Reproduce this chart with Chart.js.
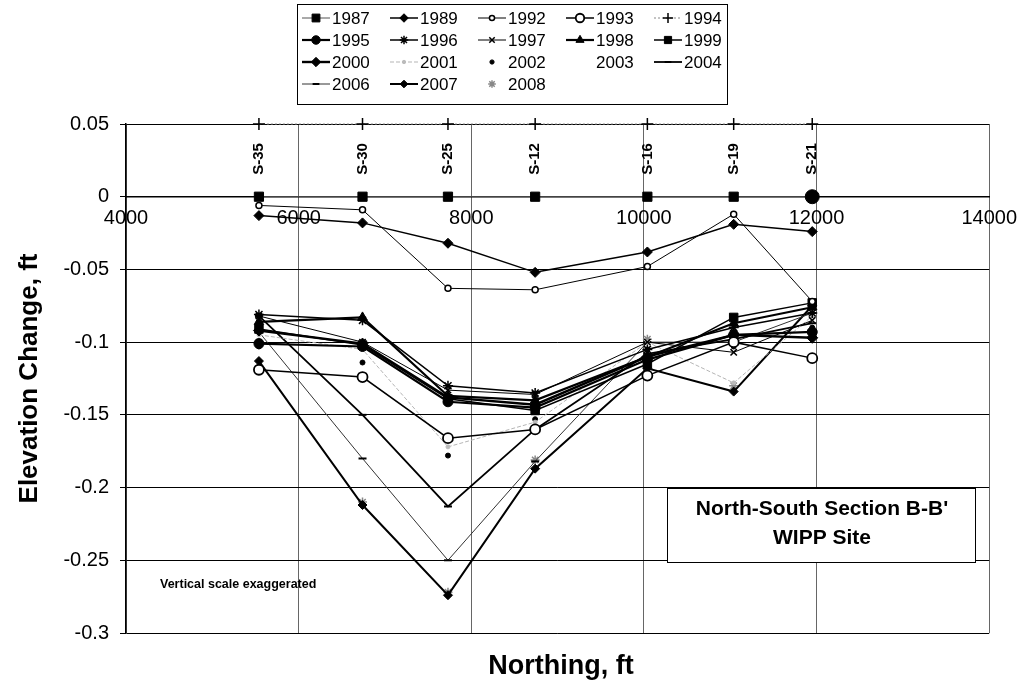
<!DOCTYPE html>
<html>
<head>
<meta charset="utf-8">
<script src="https://cdn.jsdelivr.net/npm/chart.js@4"></script>
<style>
  html, body { margin: 0; background: #fff; }
  #wrap { width: 1027px; height: 700px; }
</style>
</head>
<body>
<div id="wrap"><canvas id="c" width="1027" height="700"></canvas></div>
<script>
// survey stations along the section and their northing
const stations = ["S-35", "S-30", "S-25", "S-12", "S-16", "S-19", "S-21"];
const northing = [5540, 6740, 7730, 8740, 10040, 11040, 11950];

// elevation change per survey year (ft), same station order
const y1987 = [0, 0, 0, 0, 0, 0, 0];
const y1989 = [-0.013, -0.018, -0.032, -0.052, -0.038, -0.019, -0.024];
const y1992 = [-0.006, -0.009, -0.063, -0.064, -0.048, -0.012, -0.072];
const y1993 = [-0.119, -0.124, -0.166, -0.160, -0.123, -0.100, -0.111];
const y1994 = [0.05, 0.05, 0.05, 0.05, 0.05, 0.05, 0.05]; // label row
const y1995 = [-0.101, -0.103, -0.141, -0.145, -0.112, -0.095, -0.093];
const y1996 = [-0.081, -0.085, -0.130, -0.135, -0.105, -0.090, -0.080];
const y1997 = [-0.082, -0.100, -0.133, -0.136, -0.100, -0.107, -0.085];
const y1998 = [-0.086, -0.083, -0.137, -0.140, -0.110, -0.087, -0.076];
const y1999 = [-0.091, -0.102, -0.139, -0.147, -0.115, -0.083, -0.073];
const y2000 = [-0.092, -0.101, -0.138, -0.143, -0.110, -0.095, -0.097];
const y2001 = [-0.095, -0.105, -0.172, -0.155, -0.100, -0.128, -0.082];
const y2002 = [-0.103, -0.114, -0.178, -0.153, -0.105, -0.103, -0.090];
const y2003 = [];
const y2004 = [-0.082, -0.150, -0.213, -0.160, -0.108, -0.098, -0.087];
const y2006 = [-0.093, -0.180, -0.250, -0.182, -0.100, -0.100, -0.080];
const y2007 = [-0.113, -0.212, -0.274, -0.187, -0.118, -0.134, -0.075];
const y2008 = [-0.100, -0.210, -0.272, -0.181, -0.098, -0.130, -0.078];

const xTicks = { min: 4000, max: 14000, step: 2000 };
const yTicks = { min: -0.3, max: 0.05, step: 0.05 };

const FONT = '"Liberation Sans", Arial, Helvetica, sans-serif';
Chart.defaults.font.family = FONT;
Chart.defaults.color = "#000";

function pts(values) {
  return values.map((v, i) => ({ x: northing[i], y: v }));
}

function series(label, values, s) {
  return Object.assign({
    label,
    data: pts(values),
    borderColor: "#000",
    backgroundColor: "#000",
    pointBorderColor: "#000",
    pointBackgroundColor: "#000",
    borderWidth: 1.5,
    pointBorderWidth: 1,
    pointRadius: 4,
    pointStyle: "circle",
    showLine: true,
    clip: false,
    tension: 0,
  }, s);
}

const datasets = [
  series("1987", y1987, { borderWidth: 1, borderColor: "#555", pointStyle: ["rect", "rect", "rect", "rect", "rect", "rect", "circle"], pointRadius: [6.5, 6.5, 6.5, 6.5, 6.5, 6.5, 7] }),
  series("1989", y1989, { borderWidth: 1.5, pointStyle: "rectRot", pointRadius: 5 }),
  series("1992", y1992, { borderWidth: 1, pointStyle: "circle", pointRadius: 3, pointBackgroundColor: "#fff", pointBorderWidth: 1.5 }),
  series("1993", y1993, { borderWidth: 1.5, pointStyle: "circle", pointRadius: 5, pointBackgroundColor: "#fff", pointBorderWidth: 1.8 }),
  series("1994", y1994, { borderWidth: 1, borderColor: "#888", borderDash: [2, 2], pointStyle: "cross", pointRadius: 6, pointBorderWidth: 1.5 }),
  series("1995", y1995, { borderWidth: 2.2, pointStyle: "circle", pointRadius: 5 }),
  series("1996", y1996, { borderWidth: 1.5, pointStyle: "star", pointRadius: 5, pointBorderWidth: 1.5 }),
  series("1997", y1997, { borderWidth: 1, pointStyle: "crossRot", pointRadius: 4.5, pointBorderWidth: 1.5 }),
  series("1998", y1998, { borderWidth: 2.2, pointStyle: "triangle", pointRadius: 5.5 }),
  series("1999", y1999, { borderWidth: 1.5, pointStyle: "rect", pointRadius: 6 }),
  series("2000", y2000, { borderWidth: 2.4, pointStyle: "rectRot", pointRadius: 5.5 }),
  series("2001", y2001, { borderWidth: 1, borderColor: "#b5b5b5", borderDash: [4, 2], pointStyle: "circle", pointRadius: 2, pointBackgroundColor: "#bbb", pointBorderColor: "#bbb" }),
  series("2002", y2002, { showLine: false, borderWidth: 0, pointStyle: "circle", pointRadius: 2.5 }),
  series("2003", y2003, { showLine: false, borderWidth: 0, pointRadius: 0 }),
  series("2004", y2004, { borderWidth: 1.8, pointStyle: "line", pointRadius: 4, pointBorderWidth: 2 }),
  series("2006", y2006, { borderWidth: 1, borderColor: "#333", pointStyle: "line", pointRadius: 4, pointBorderWidth: 2 }),
  series("2007", y2007, { borderWidth: 2, pointStyle: "rectRot", pointRadius: 4.5 }),
  series("2008", y2008, { showLine: false, borderWidth: 0, pointStyle: "star", pointRadius: 4.5, pointBorderColor: "#888", pointBackgroundColor: "#888", pointBorderWidth: 1.5 }),
];

// boxed legend, 5 columns like the original
const gridLegend = {
  id: "gridLegend",
  afterDraw(chart) {
    const ctx = chart.ctx;
    ctx.save();
    ctx.setLineDash([]);
    ctx.strokeStyle = "#000";
    ctx.lineWidth = 1;
    ctx.strokeRect(297.5, 4.5, 430, 100);
    ctx.font = "17px " + FONT;
    ctx.textBaseline = "middle";
    ctx.textAlign = "left";
    chart.data.datasets.forEach((ds, i) => {
      const x0 = 302 + (i % 5) * 88;
      const y = 18 + Math.floor(i / 5) * 22;
      if (ds.showLine !== false && ds.borderWidth > 0) {
        ctx.strokeStyle = ds.borderColor;
        ctx.lineWidth = ds.borderWidth;
        ctx.setLineDash(ds.borderDash || []);
        ctx.beginPath();
        ctx.moveTo(x0, y);
        ctx.lineTo(x0 + 28, y);
        ctx.stroke();
        ctx.setLineDash([]);
      }
      const style = Array.isArray(ds.pointStyle) ? ds.pointStyle[0] : ds.pointStyle;
      const r = Array.isArray(ds.pointRadius) ? ds.pointRadius[0] : ds.pointRadius;
      if (r > 0 && Chart.helpers && Chart.helpers.drawPoint) {
        ctx.fillStyle = ds.pointBackgroundColor;
        ctx.strokeStyle = ds.pointBorderColor;
        ctx.lineWidth = ds.pointBorderWidth;
        Chart.helpers.drawPoint(ctx, { pointStyle: style, radius: r * 0.85, rotation: 0, borderWidth: ds.pointBorderWidth }, x0 + 14, y);
      }
      ctx.fillStyle = "#000";
      ctx.fillText(ds.label, x0 + 30, y + 1);
    });
    ctx.restore();
  },
};

// station names above the 1994 label row, plus text annotations
const annotations = {
  id: "annotations",
  afterDatasetsDraw(chart) {
    const ctx = chart.ctx;
    const meta = chart.getDatasetMeta(4);
    ctx.save();
    ctx.fillStyle = "#000";
    ctx.font = "bold 15px " + FONT;
    ctx.textAlign = "center";
    ctx.textBaseline = "middle";
    meta.data.forEach((p, i) => {
      ctx.save();
      ctx.translate(p.x, p.y + 35);
      ctx.rotate(-Math.PI / 2);
      ctx.fillText(stations[i], 0, 0);
      ctx.restore();
    });

    ctx.textAlign = "left";
    ctx.font = "bold 12.5px " + FONT;
    ctx.fillText("Vertical scale exaggerated", 160, 585);

    ctx.fillStyle = "#fff";
    ctx.fillRect(667, 488, 308, 74);
    ctx.strokeStyle = "#000";
    ctx.lineWidth = 1;
    ctx.strokeRect(667.5, 488.5, 308, 74);
    ctx.fillStyle = "#000";
    ctx.textAlign = "center";
    ctx.font = "bold 21px " + FONT;
    ctx.fillText("North-South Section B-B'", 822, 509);
    ctx.fillText("WIPP Site", 822, 538);

    ctx.font = "bold 27px " + FONT;
    ctx.fillText("Northing, ft", 561, 667);
    ctx.restore();
  },
};

new Chart(document.getElementById("c"), {
  type: "line",
  data: { datasets },
  options: {
    responsive: false,
    animation: false,
    devicePixelRatio: 1,
    layout: { padding: { left: 0, right: 35, top: 124, bottom: 67 } },
    plugins: { legend: { display: false }, tooltip: { enabled: false } },
    scales: {
      x: {
        type: "linear",
        position: { y: 0 },
        min: xTicks.min,
        max: xTicks.max,
        ticks: { stepSize: xTicks.step, padding: 10, font: { size: 20 }, color: "#000", maxRotation: 0, callback: (v) => String(v) },
        grid: { color: "#666", lineWidth: 1, drawTicks: false },
        border: { display: true, color: "#000", width: 1.5 },
      },
      y: {
        type: "linear",
        min: yTicks.min,
        max: yTicks.max,
        afterFit: (s) => { s.width = 126; },
        ticks: { stepSize: yTicks.step, padding: 11, font: { size: 20 }, color: "#000", callback: (v) => String(+v.toFixed(2)) },
        grid: { color: "#000", lineWidth: 1, tickLength: 6, tickColor: "#000" },
        border: { display: true, color: "#000", width: 1.5 },
        title: { display: true, text: "Elevation Change, ft", font: { size: 26, weight: "bold" }, color: "#000", padding: { top: 14, bottom: 4 } },
      },
    },
  },
  plugins: [gridLegend, annotations],
});
</script>
</body>
</html>
